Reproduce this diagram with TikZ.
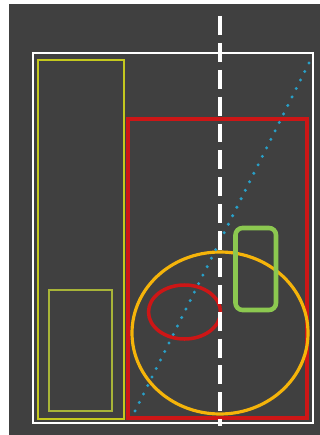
\documentclass[tikz,border=0pt]{standalone}
\definecolor{bgdark}{RGB}{64,64,64}
\definecolor{frameyellow}{RGB}{196,200,30}
\definecolor{boxolive}{RGB}{168,180,56}
\definecolor{zonered}{RGB}{205,22,22}
\definecolor{ringgold}{RGB}{245,180,10}
\definecolor{padgreen}{RGB}{140,200,80}
\definecolor{diagcyan}{RGB}{40,160,200}
\usetikzlibrary{calc}

\begin{document}
\begin{tikzpicture}[x=0.02cm, y=-0.02cm,
  frame/.style={draw=white, line width=1.6pt},
  thinbox/.style={draw=frameyellow, line width=0.9pt},
  innerbox/.style={draw=boxolive, line width=1.2pt},
  zone/.style={draw=zonered, line width=2pt},
  axis/.style={draw=white, line width=1.8pt, dash pattern=on 10.8pt off 4.5pt},
  diag/.style={draw=diagcyan, line width=1.9pt, line cap=round, dash pattern=on 0pt off 5.4pt}]
% background and page margins
\useasboundingbox (0,0) rectangle (320,435);
\fill[bgdark] (9,4) rectangle (320,435);
% outer frame
\draw[frame] (33,53) rectangle (313,423);
% left column boxes
\draw[thinbox] (38,60) rectangle (124,419);
\draw[innerbox] (49,290) rectangle (112,411);
% red zone
\draw[zone] (128,119) rectangle (307,418);
% rings
\draw[ringgold, line width=1.8pt] (220,333) ellipse [x radius=88, y radius=81];
\draw[zonered, line width=2pt] (184.5,312) ellipse [x radius=36, y radius=27];
% green pad
\draw[padgreen, line width=2.6pt, rounded corners=4pt] (235.5,228) rectangle (276,310);
% diagonal and centre line
\draw[diag] (309,63) -- (134,413);
\draw[axis] (220,16) -- (220,426);
\end{tikzpicture}
\end{document}
